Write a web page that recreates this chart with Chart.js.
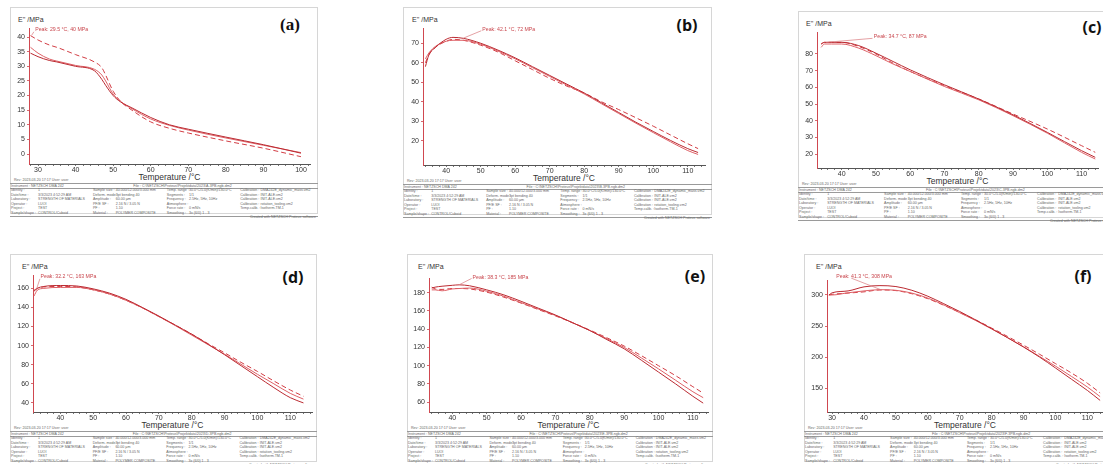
<!DOCTYPE html>
<html>
<head>
<meta charset="utf-8">
<script src="https://cdn.jsdelivr.net/npm/chart.js@4.4.1/dist/chart.umd.min.js"></script>
<style>
  body { margin: 0; width: 1103px; height: 464px; overflow: hidden; background: #fff; position: relative;
         font-family: "Liberation Sans", Arial, sans-serif; }
  .abs { position: absolute; white-space: nowrap; }
  .frame { position: absolute; border: 1px solid #d6d6d6; box-sizing: border-box; }
  .ylab { font-size: 7px; color: #333; transform: translateY(-50%); }
  .letter { font-size: 16px; font-weight: bold; color: #111; transform: translate(-50%, -50%); font-family: "Open Sans", sans-serif; }
  .serif { font-family: "Liberation Serif", serif; font-size: 17px; }
  .xtitle { font-size: 8.5px; color: #333; transform: translate(-50%, -50%); }
  .tiny { font-size: 3.6px; color: #666; }
  .rule { position: absolute; height: 0; border-top: 0.7px solid #9a9a9a; }
</style>
</head>
<body>
<script>
// E'' (MPa) vs temperature, three runs per specimen
const aTemp = [28, 30, 33, 35, 40, 45, 47, 48, 50, 52, 55, 60, 65, 70, 80, 90, 100];
const aRun1 = [34.5, 33.3, 32, 31.5, 30, 28.5, 25.5, 23.5, 20, 17.8, 15.8, 12.5, 10, 8.5, 5.8, 3.2, 0.3];
const aRun2 = [36.5, 34.5, 32.5, 31.8, 30.3, 29, 27, 25, 20.5, 18, 15.5, 12, 9.8, 8.2, 5.5, 3, 0.5];
const aRun3 = [40.5, 39, 37.3, 36.5, 34, 31.5, 29.5, 27, 21.5, 18, 15, 11, 8.8, 7.2, 4.5, 2, -0.9];

const bTemp = [34, 35, 37, 40, 42, 45, 50, 55, 60, 65, 70, 75, 80, 85, 90, 95, 100, 105, 110, 113];
const bRun1 = [58, 64, 68, 72, 73, 72.5, 70, 66.5, 62.5, 58, 53.5, 49, 44.5, 39.5, 34.5, 29.5, 24.8, 20.2, 16, 14];
const bRun2 = [62, 65, 68.5, 71, 71.5, 71.5, 69.5, 66, 62, 57.5, 53, 48.5, 44, 39, 34, 29, 24.2, 19.5, 15, 13];
const bRun3 = [60, 64, 68, 71, 72, 71.5, 69, 65.5, 61, 56.5, 52, 48, 44.5, 40, 36, 31.8, 27.5, 23, 18.5, 16];

const cTemp = [34, 35, 37, 40, 45, 50, 55, 60, 70, 80, 90, 100, 110, 114];
const cRun1 = [86, 87, 87, 87, 85, 80.5, 75.5, 70.5, 61.5, 53, 43.5, 33, 22, 18];
const cRun2 = [84, 86, 86, 86, 83.5, 79, 74, 69.5, 60.5, 52.5, 43, 32.5, 21, 17];
const cRun3 = [86, 87, 87, 87, 84.5, 80, 74.5, 69.5, 61, 53, 44, 35, 25, 21];

const dTemp = [32, 33, 35, 40, 45, 50, 55, 60, 65, 70, 75, 80, 85, 90, 95, 100, 105, 110, 114];
const dRun1 = [157, 160, 162, 163, 162.5, 159.5, 155, 148.5, 140, 131, 121.5, 112, 101.5, 90.5, 79, 67.5, 56, 45.5, 40];
const dRun2 = [152, 158, 160, 161, 161, 158.5, 154, 147.5, 139.5, 130.5, 121, 111, 101, 91, 80.5, 70, 60, 50, 44];
const dRun3 = [158, 160, 161.5, 162, 161.5, 158.5, 154, 147.5, 139.5, 130.5, 121.5, 112, 102, 92.5, 82.5, 73, 63, 53.5, 47];

const eTemp = [34, 35, 37, 40, 42, 45, 50, 55, 60, 65, 70, 75, 80, 85, 90, 95, 100, 105, 110, 113];
const eRun1 = [185, 186, 187, 188, 188.5, 187.5, 183, 177.5, 170.5, 163, 155.5, 147, 138.5, 128.5, 118.5, 106, 93, 80, 66.5, 59];
const eRun2 = [183, 183, 182, 184, 184.5, 185, 181.5, 176, 169, 162, 155, 147, 138.5, 129.5, 120, 108.5, 96.5, 84, 71.5, 65];
const eRun3 = [186, 184, 183.5, 184.5, 184.5, 184, 180.5, 175, 168.5, 161.5, 154.5, 147, 139, 130.5, 121.5, 111, 100, 89, 77, 70];

const fTemp = [29, 30, 35, 40, 45, 50, 55, 60, 65, 70, 75, 80, 85, 90, 95, 100, 105, 110, 114];
const fRun1 = [300, 303.5, 306.5, 313, 315, 313.5, 307.5, 298, 286, 273.5, 260, 246, 231.5, 216.5, 200.5, 183, 165, 147, 131];
const fRun2 = [300, 300, 303.5, 306.5, 308.5, 307.5, 303, 295, 284, 271.5, 259, 245.5, 231.5, 217, 201.5, 186, 169.5, 152.5, 137];
const fRun3 = [300, 301, 303, 305, 308, 307, 302, 294, 283.5, 272, 260, 247, 233.5, 219.5, 205, 190, 175, 158.5, 143];

const runColors = ['#bb2a31', '#de6066', '#d23d44'];

const panels = [
  { letter: '(a)', serif: true, temps: aTemp, runs: [aRun1, aRun2, aRun3], xMin: 27.6, xMax: 102.4, yMin: -3.4, yMax: 43.1, yStep: 5,
    peak: { text: 'Peak: 29.5 °C, 40 MPa', tx: 29, ty: 42.4, ax: 28.9, ay: 41.8, px: 28.3, py: 40.6 },
    L: { fl: 10, ft: 7, fw: 308, pl: 29, pt: 28, pr: 310, pb: 164, lcx: 290, lcy: 25 } },
  { letter: '(b)', temps: bTemp, runs: [bRun1, bRun2, bRun3], xMin: 33.3, xMax: 115, yMin: 7.6, yMax: 77.8, yStep: 10,
    peak: { text: 'Peak: 42.1 °C, 72 MPa', tx: 50.2, ty: 77.2, ax: 50.2, ay: 76.4, px: 45, py: 72.6 },
    L: { fl: 403, ft: 7, fw: 309, pl: 423, pt: 28, pr: 705, pb: 165, lcx: 687, lcy: 25 } },
  { letter: '(c)', temps: cTemp, runs: [cRun1, cRun2, cRun3], xMin: 32.8, xMax: 114.8, yMin: 11.6, yMax: 93.2, yStep: 10,
    peak: { text: 'Peak: 34.7 °C, 87 MPa', tx: 49.1, ty: 90.2, ax: 49, ay: 89.4, px: 35.5, py: 87 },
    L: { fl: 798, ft: 11, fw: 320, pl: 817, pt: 32, pr: 1098, pb: 168, lcx: 1092, lcy: 27 } },
  { letter: '(d)', temps: dTemp, runs: [dRun1, dRun2, dRun3], xMin: 31.7, xMax: 116.6, yMin: 30.5, yMax: 174, yStep: 20,
    peak: { text: 'Peak: 32.2 °C, 163 MPa', tx: 33.7, ty: 172, ax: 33.8, ay: 170, px: 32.6, py: 157.5 },
    L: { fl: 10, ft: 254, fw: 307, pl: 33, pt: 275, pr: 312, pb: 412, lcx: 293, lcy: 277 } },
  { letter: '(e)', temps: eTemp, runs: [eRun1, eRun2, eRun3], xMin: 33.2, xMax: 114.4, yMin: 49.3, yMax: 196, yStep: 20,
    peak: { text: 'Peak: 38.3 °C, 185 MPa', tx: 45.6, ty: 197, ax: 45.6, ay: 195.5, px: 42, py: 188.6 },
    L: { fl: 407, ft: 254, fw: 306, pl: 429, pt: 278, pr: 708, pb: 412, lcx: 695, lcy: 276 } },
  { letter: '(f)', temps: fTemp, runs: [fRun1, fRun2, fRun3], xMin: 28.4, xMax: 114.9, yMin: 112.4, yMax: 324, yStep: 50,
    peak: { text: 'Peak: 41.3 °C, 308 MPa', tx: 31, ty: 329, ax: 36, ay: 327, px: 45.5, py: 308 },
    L: { fl: 804, ft: 254, fw: 320, pl: 827, pt: 280, pr: 1103, pb: 412, lcx: 1083, lcy: 276 } }
];

const metaRows = [
  ['Identity :', '1', 'Sample size :', '40.000/12.000/3.000 mm', 'Temp. range :', '30.0°C/5.0(K/min)/130.0°C', 'Calibration :', 'DMA242E_dynamic_mass.vm2'],
  ['Date/time :', '3/3/2023 4:52:29 AM', 'Deform. mode :', '3pt bending 40', 'Segments :', '1/1', 'Calibration :', 'INIT-ALE.vm2'],
  ['Laboratory :', 'STRENGTH OF MATERIALS', 'Amplitude :', '60.00 µm', 'Frequency :', '2.5Hz, 5Hz, 10Hz', 'Calibration :', 'INIT-ALE.vm2'],
  ['Operator :', 'LUOI', 'PF/E SF :', '2.16 N / 3.05 N', 'Atmosphere :', '', 'Calibration :', 'rotation_tooling.vm2'],
  ['Project :', 'TEST', 'PF :', '1.10', 'Force rate :', '0 mN/s', 'Temp.calib. :', 'Isotherm.TM-1'],
  ['Sample/shape :', 'CONTROL/Cuboid', 'Material :', 'POLYMER COMPOSITE', 'Smoothing :', '3x (6/0) 1 - 3', '', '']
];
const metaCols = [0, 0.088, 0.266, 0.34, 0.506, 0.578, 0.744, 0.81];

const peakPlugin = {
  id: 'peak',
  afterDatasetsDraw(chart, args, o) {
    const x = chart.scales.x, y = chart.scales.y, ctx = chart.ctx;
    ctx.save();
    ctx.strokeStyle = '#d9787d';
    ctx.lineWidth = 0.7;
    ctx.beginPath();
    ctx.moveTo(x.getPixelForValue(o.ax), y.getPixelForValue(o.ay));
    ctx.lineTo(x.getPixelForValue(o.px), y.getPixelForValue(o.py));
    ctx.stroke();
    ctx.font = '5.2px "Liberation Sans", Arial, sans-serif';
    ctx.fillStyle = '#c9464d';
    ctx.textBaseline = 'middle';
    ctx.fillText(o.text, x.getPixelForValue(o.tx) + 1, y.getPixelForValue(o.ty));
    ctx.restore();
  }
};

function addDiv(cls, text, css) {
  const d = document.createElement('div');
  d.className = cls;
  if (text !== null) d.textContent = text;
  d.style.cssText = css;
  document.body.appendChild(d);
  return d;
}

function drawPanel(p) {
  const L = p.L;
  const fh = L.pb + 50 - L.ft;
  addDiv('frame', null, `left:${L.fl}px;top:${L.ft}px;width:${L.fw}px;height:${fh}px;`);
  addDiv('abs ylab', "E'' /MPa", `left:${L.pl - 11}px;top:${L.ft + 12}px;`);
  addDiv('abs letter' + (p.serif ? ' serif' : ''), p.letter, `left:${L.lcx}px;top:${L.lcy}px;`);
  addDiv('abs xtitle', 'Temperature /°C', `left:${(L.pl + L.pr) / 2}px;top:${L.pb + 12.5}px;`);
  addDiv('abs tiny', 'Rev:   2023-03-20 17:17      User: user', `left:${L.fl + 4}px;top:${L.pb + 14}px;`);

  // metadata block under the plot
  const mt = L.pb + 19;
  addDiv('rule', null, `left:${L.fl}px;top:${mt}px;width:${L.fw}px;`);
  addDiv('abs tiny', 'Instrument :  NETZSCH DMA 242', `left:${L.fl + 1}px;top:${mt + 0.5}px;`);
  addDiv('abs tiny', 'File :  C:\\NETZSCH\\Proteus\\Projektdata\\2023\\' + p.letter.replace(/[()]/g, '').toUpperCase() + '-3PB.ngb-dm2',
    `left:${L.fl + L.fw * 0.4}px;top:${mt + 0.5}px;`);
  addDiv('rule', null, `left:${L.fl}px;top:${mt + 4.5}px;width:${L.fw}px;`);
  metaRows.forEach((row, r) => {
    row.forEach((t, c) => {
      if (t) addDiv('abs tiny', t, `left:${L.fl + 1 + metaCols[c] * L.fw}px;top:${mt + 5 + r * 4.6}px;`);
    });
  });
  addDiv('rule', null, `left:${L.fl}px;top:${mt + 33}px;width:${L.fw}px;`);
  addDiv('abs tiny', 'Created with NETZSCH Proteus software',
    `left:${L.fl + L.fw - 2}px;top:${L.pb + 51}px;transform:translateX(-100%);`);

  // chart canvas, sized so the chart area lands on the plot box
  const YW = 22, XH = 12, PT = 10, PR = 4;
  const w = L.pr - L.pl + YW + PR, h = L.pb - L.pt + PT + XH;
  const cv = document.createElement('canvas');
  cv.width = w; cv.height = h;
  cv.style.cssText = `position:absolute;left:${L.pl - YW}px;top:${L.pt - PT}px;width:${w}px;height:${h}px;`;
  document.body.appendChild(cv);

  const tickFont = { size: 7, family: '"Liberation Sans", Arial, sans-serif' };
  new Chart(cv, {
    type: 'line',
    data: {
      datasets: p.runs.map((r, i) => ({
        data: p.temps.map((t, j) => ({ x: t, y: r[j] })),
        borderColor: runColors[i],
        borderWidth: 1,
        borderDash: i === 2 ? [5, 3] : [],
        pointRadius: 0,
        cubicInterpolationMode: 'monotone',
        fill: false
      }))
    },
    options: {
      responsive: false,
      animation: false,
      devicePixelRatio: 1,
      events: [],
      layout: { padding: { top: PT, right: PR, left: 0, bottom: 0 } },
      plugins: { legend: { display: false }, tooltip: { enabled: false }, peak: p.peak },
      scales: {
        x: {
          type: 'linear', min: p.xMin, max: p.xMax,
          afterFit: s => { s.height = XH; },
          afterBuildTicks: s => {
            const t = [];
            for (let v = Math.ceil(p.xMin / 2) * 2; v <= p.xMax; v += 2) t.push({ value: v });
            s.ticks = t;
          },
          ticks: { autoSkip: false, maxRotation: 0, padding: 0, font: tickFont, color: '#333',
                   callback: v => (v % 10 === 0 ? String(v) : '') },
          grid: { display: true, drawOnChartArea: false, drawTicks: true, tickLength: 2, color: '#777' },
          border: { color: '#555', width: 1 }
        },
        y: {
          type: 'linear', min: p.yMin, max: p.yMax,
          afterFit: s => { s.width = YW; },
          afterBuildTicks: s => {
            s.ticks = s.ticks.filter(t => Math.abs(t.value / p.yStep - Math.round(t.value / p.yStep)) < 1e-6);
          },
          ticks: { stepSize: p.yStep, padding: 2, font: tickFont, color: '#333' },
          grid: { display: true, drawOnChartArea: false, drawTicks: true, tickLength: 2, color: '#d66a70' },
          border: { color: '#d04850', width: 1 }
        }
      }
    },
    plugins: [peakPlugin]
  });
}

panels.forEach(drawPanel);
</script>
</body>
</html>
